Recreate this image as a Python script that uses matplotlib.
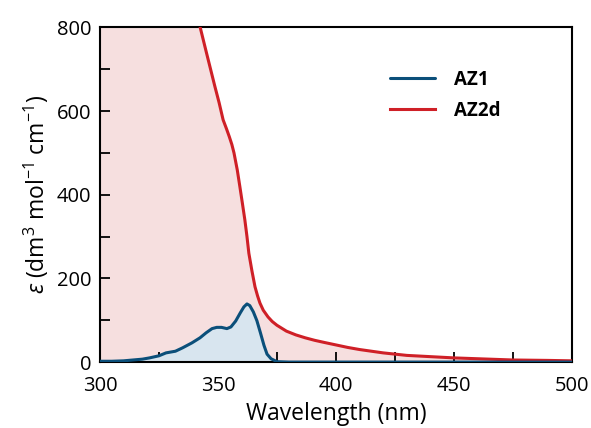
import numpy as np
import matplotlib
matplotlib.use('Agg')
import matplotlib.pyplot as plt
from matplotlib.ticker import MultipleLocator

# Data (wavelength in nm, epsilon)
az1_wl = [300, 305, 310, 314, 318, 321, 325, 328, 332, 335, 339, 342.4, 345,
          347.5, 349.5, 351.5, 353.8, 355.5, 357.5, 359.5, 361, 362.3, 363.5,
          365, 366.5, 368, 369.5, 370.8, 372.5, 375, 380, 400, 450, 500]
az1_eps = [2, 2, 3, 5, 7, 10, 15, 22, 26, 34, 46, 58, 70,
           80, 83, 83, 80, 84, 98, 118, 132, 139, 135,
           120, 99, 70, 40, 19, 8, 1, 0, 0, 0, 0]

az2d_wl = [300, 320, 330, 338, 342.4, 345.2, 348.7, 350.5, 352.2, 353.6, 354.8,
           355.9, 356.8, 358.2, 359.3, 360.4, 361.4, 362.3, 363.1, 364.4,
           365.7, 366.8, 367.8, 369.2, 371.2, 373, 375, 377, 379, 383, 387,
           391, 395, 400, 405, 410, 415, 420, 425, 430, 440, 450, 460, 475,
           490, 500]
az2d_eps = [3000, 1600, 1150, 900, 802, 738, 659, 620, 579, 558, 539,
            520, 500, 459, 419, 378, 340, 300, 260, 218,
            180, 158, 141, 124, 108, 97, 88, 81, 74, 65, 58,
            52, 47, 41, 35, 30, 26, 22, 19, 16, 13, 10, 8, 5,
            4, 3]

blue = '#0b4f7a'
red = '#cf2027'

plt.rcParams['font.family'] = ['Open Sans', 'DejaVu Sans']
plt.rcParams['mathtext.fontset'] = 'custom'
plt.rcParams['mathtext.rm'] = 'Open Sans'
plt.rcParams['mathtext.it'] = 'Open Sans:italic'

fig = plt.figure(figsize=(5.91, 4.28), dpi=100)
ax = fig.add_axes([0.169, 0.154, 0.799, 0.782])

# fills first, then lines
ax.fill_between(az2d_wl, 0, az2d_eps, color='#f6dfdf', lw=0, zorder=1)
ax.fill_between(az1_wl, 0, az1_eps, color='#d8e5ef', lw=0, zorder=2)
ax.plot(az2d_wl, az2d_eps, color=red, lw=2.2, label='AZ2d', zorder=3,
        solid_joinstyle='round')
ax.plot(az1_wl, az1_eps, color=blue, lw=2.2, label='AZ1', zorder=4,
        solid_joinstyle='round', solid_capstyle='round')

ax.set_xlim(300, 500)
ax.set_ylim(0, 800)
ax.xaxis.set_major_locator(MultipleLocator(50))
ax.xaxis.set_minor_locator(MultipleLocator(25))
ax.yaxis.set_major_locator(MultipleLocator(200))
ax.yaxis.set_minor_locator(MultipleLocator(100))
ax.tick_params(which='both', direction='in', length=7, width=1.3,
               labelsize=14.5, top=False, right=False)
ax.tick_params(axis='x', pad=10)
ax.tick_params(axis='y', pad=6)
for s in ax.spines.values():
    s.set_linewidth(1.5)

ax.set_xlabel('Wavelength (nm)', fontsize=16.5, labelpad=4)
ax.set_ylabel(r'$\varepsilon$ (dm$^3$ mol$^{-1}$ cm$^{-1}$)', fontsize=16.5, labelpad=4)

h, l = ax.get_legend_handles_labels()
ax.legend(h[::-1], l[::-1], loc='upper left', bbox_to_anchor=(0.614, 0.874),
          frameon=False, borderpad=0, borderaxespad=0,
          handlelength=2.4, handletextpad=1.0,
          labelspacing=0.6, prop={'weight': 'bold', 'size': 13.5})

fig.savefig('out.png', dpi=100)
